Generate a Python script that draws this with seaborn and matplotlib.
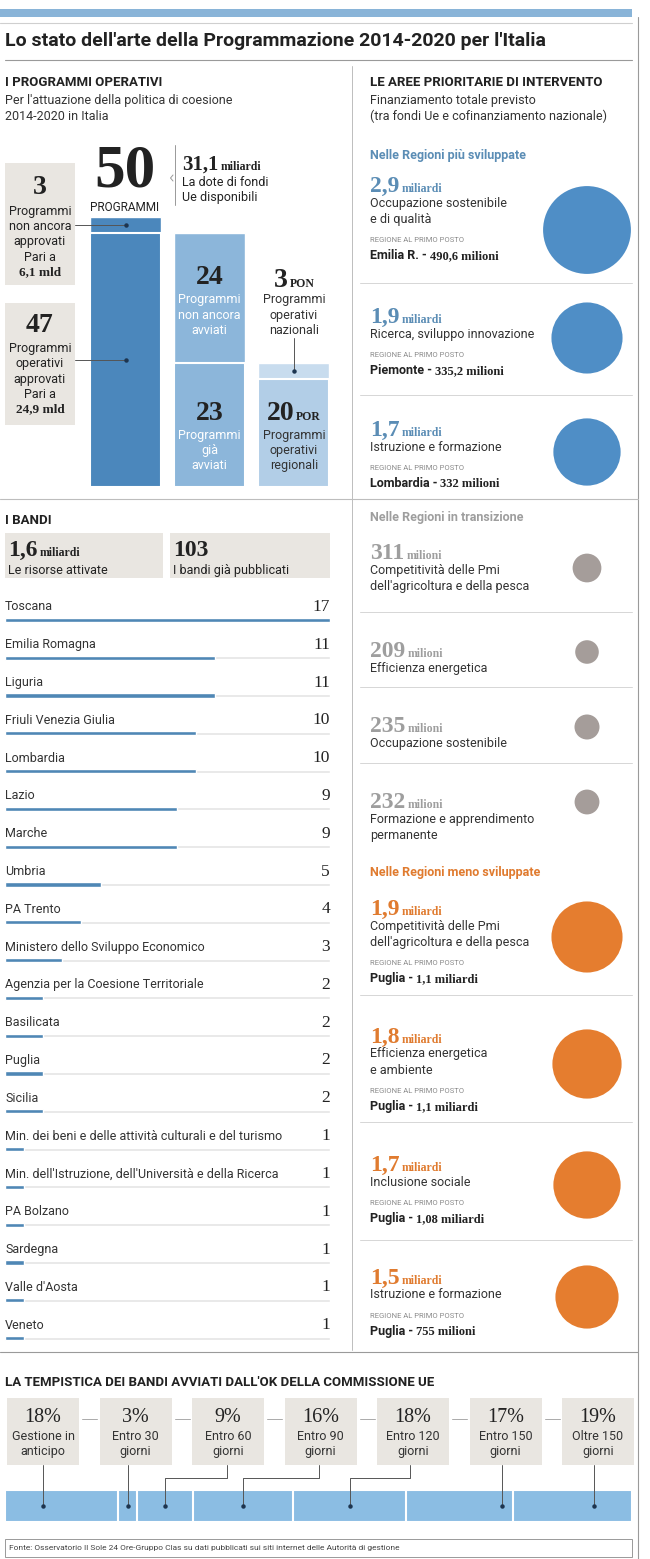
import numpy as np
import pandas as pd
import matplotlib.pyplot as plt
import seaborn as sns
from matplotlib.patches import Rectangle

# programmi operativi: colonne impilate (parte bassa + parte alta)
prog_columns = ['Totale', 'Approvati', 'Tipo']
prog_bottom = [47, 23, 20]
prog_top = [3, 24, 3]

# i bandi
bandi_names = ['Toscana', 'Emilia Romagna', 'Liguria', 'Friuli Venezia Giulia', 'Lombardia',
               'Lazio', 'Marche', 'Umbria', 'PA Trento', 'Ministero dello Sviluppo Economico',
               'Agenzia per la Coesione Territoriale', 'Basilicata', 'Puglia', 'Sicilia',
               'Min. dei beni e delle attività culturali e del turismo',
               "Min. dell'Istruzione, dell'Università e della Ricerca",
               'PA Bolzano', 'Sardegna', "Valle d'Aosta", 'Veneto']
bandi_values = [17, 11, 11, 10, 10, 9, 9, 5, 4, 3, 2, 2, 2, 2, 1, 1, 1, 1, 1, 1]

# aree prioritarie (valori in miliardi)
area_group = ['sviluppate'] * 3 + ['transizione'] * 4 + ['meno'] * 4
area_value = [2.9, 1.9, 1.7, 0.311, 0.209, 0.235, 0.232, 1.9, 1.8, 1.7, 1.5]
area_num = ['2,9', '1,9', '1,7', '311', '209', '235', '232', '1,9', '1,8', '1,7', '1,5']
area_unit = ['miliardi'] * 3 + ['milioni'] * 4 + ['miliardi'] * 4
area_title = ['Occupazione sostenibile\ne di qualità', 'Ricerca, sviluppo innovazione',
              'Istruzione e formazione',
              "Competitività delle Pmi\ndell'agricoltura e della pesca", 'Efficienza energetica',
              'Occupazione sostenibile', 'Formazione e apprendimento\npermanente',
              "Competitività delle Pmi\ndell'agricoltura e della pesca",
              'Efficienza energetica\ne ambiente', 'Inclusione sociale', 'Istruzione e formazione']
area_leader = ['Emilia R.', 'Piemonte', 'Lombardia', '', '', '', '',
               'Puglia', 'Puglia', 'Puglia', 'Puglia']
area_leader_amount = ['490,6 milioni', '335,2 milioni', '332 milioni', '', '', '', '',
                      '1,1 miliardi', '1,1 miliardi', '1,08 miliardi', '755 milioni']
group_headers = {'sviluppate': 'Nelle Regioni più sviluppate',
                 'transizione': 'Nelle Regioni in transizione',
                 'meno': 'Nelle Regioni meno sviluppate'}

# tempistica
tempi_pct = [18, 3, 9, 16, 18, 17, 19]
tempi_labels = ['Gestione in\nanticipo', 'Entro 30\ngiorni', 'Entro 60\ngiorni', 'Entro 90\ngiorni',
                'Entro 120\ngiorni', 'Entro 150\ngiorni', 'Oltre 150\ngiorni']

# layout (pixel)
W, H = 650, 1559
RX = 370
area_text_y = [184, 315, 428, 551, 649, 724, 800, 907, 1035, 1163, 1276]
area_circle_y = [230, 338, 452, 568, 652, 727, 802, 937, 1064, 1185, 1297]
header_y = {'sviluppate': 155, 'transizione': 518, 'meno': 872}
sep_y = [283, 395, 612, 687, 763, 995, 1122, 1240]
tempi_anchor = [43, 128, 227, 319, 410, 502, 594]

DARK = '#222222'
BOX = '#e9e6e1'
LINE = '#bdbdbd'
text_col = {'sviluppate': '#5b8db5', 'transizione': '#9e9e9e', 'meno': '#e07b2f'}
circle_col = {'sviluppate': '#4f8ec6', 'transizione': '#a59d9a', 'meno': '#e57d2f'}

sns.set_theme(style='white')
SANS = ['Liberation Sans Narrow', 'Roboto', 'DejaVu Sans']
SERIF = ['Liberation Serif', 'DejaVu Serif']
plt.rcParams['font.family'] = SANS

fig = plt.figure(figsize=(6.5, 15.59), dpi=100)
renderer = fig.canvas.get_renderer()

canvas = fig.add_axes([0, 0, 1, 1])
canvas.set_zorder(10)
canvas.set_xlim(0, W)
canvas.set_ylim(H, 0)
canvas.axis('off')


def px_axes(x0, y0, x1, y1):
    ax = fig.add_axes([x0 / W, 1 - y1 / H, (x1 - x0) / W, (y1 - y0) / H])
    return ax


def to_canvas(ax, x, y):
    dx, dy = ax.transData.transform((x, y))
    return dx, H - dy


def txt(x, y, s, size=9, color=DARK, ha='left', va='center', family=None, weight='normal', **kw):
    return canvas.text(x, y, s, fontsize=size, color=color, ha=ha, va=va,
                       family=family or SANS, fontweight=weight, **kw)


def pair(x, y, a, b, kw_a, kw_b, ha='left', gap=2):
    # two texts on the same baseline, second one after the first
    t1 = canvas.text(x, y, a, ha='left', va='baseline', **kw_a)
    t2 = canvas.text(x, y, b, ha='left', va='baseline', **kw_b)
    w1 = t1.get_window_extent(renderer).width
    w2 = t2.get_window_extent(renderer).width
    x0 = x if ha == 'left' else x - (w1 + gap + w2) / 2
    t1.set_x(x0)
    t2.set_x(x0 + w1 + gap)


def box(x0, y0, x1, y1, color=BOX):
    canvas.add_patch(Rectangle((x0, y0), x1 - x0, y1 - y0, facecolor=color, edgecolor='none'))


def hline(y, x0, x1, color=LINE, lw=0.7):
    canvas.plot([x0, x1], [y, y], color=color, lw=lw)


def num_kw(size, color=DARK, weight='bold'):
    return dict(fontsize=size, color=color, family=SERIF, fontweight=weight)


# ---------- testata ----------
box(0, 9, 632, 17, '#89b4d8')
hline(23, 0, 632, '#cfcfcf', 0.8)
txt(5, 41, "Lo stato dell'arte della Programmazione 2014-2020 per l'Italia", size=14, weight='bold')
hline(60, 5, 632, '#9a9a9a', 0.8)
canvas.plot([638, 638], [17, H], color='#9a9a9a', lw=0.8)
canvas.plot([352, 352], [66, 1350], color=LINE, lw=0.7)
hline(499, 0, 638, LINE, 0.8)
hline(1352, 0, 638, '#9a9a9a', 0.8)

# ---------- programmi operativi ----------
txt(5, 82, 'I PROGRAMMI OPERATIVI', size=9.5, weight='bold')
txt(5, 100, "Per l'attuazione della politica di coesione", size=9, color='#333333')
txt(5, 116, '2014-2020 in Italia', size=9, color='#333333')

ax_p = px_axes(83.5, 217, 336, 487)
prog_total = [b + t for b, t in zip(prog_bottom, prog_top)]
sns.barplot(x=prog_columns, y=prog_total, hue=prog_columns, palette=['#4b87bc', '#8cb6da', '#c8dcee'],
            width=0.845, saturation=1, legend=False, ax=ax_p)
sns.barplot(x=prog_columns, y=prog_bottom, hue=prog_columns, palette=['#4b87bc', '#8cb6da', '#b2cee7'],
            width=0.845, saturation=1, legend=False, edgecolor='white', linewidth=1.5, ax=ax_p)
ax_p.set_xlim(-0.5, 2.5)
ax_p.set_ylim(0, max(prog_total))
ax_p.axis('off')

txt(125, 186, str(prog_total[0]), size=44, weight='bold', family=SERIF, ha='center', va='baseline')
txt(125, 207, 'PROGRAMMI', size=8.5, ha='center')
canvas.plot([175, 175], [145, 205], color='#999999', lw=0.7)
canvas.plot([173, 170.5, 173], [175, 178, 181], color='#999999', lw=0.7)
pair(182, 170, '31,1', 'miliardi', num_kw(15), num_kw(8.5))
txt(182, 182, 'La dote di fondi', size=9)
txt(182, 197, 'Ue disponibili', size=9)

box(5, 163, 75, 285)
box(5, 303, 75, 425)
txt(40, 187, str(prog_top[0]), size=20, weight='bold', family=SERIF, ha='center')
for yy, s in zip([211, 226, 241, 257], ['Programmi', 'non ancora', 'approvati', 'Pari a']):
    txt(40, yy, s, size=9, ha='center')
txt(40, 272, '6,1 mld', size=9.5, weight='bold', family=SERIF, ha='center')
txt(40, 325, str(prog_bottom[0]), size=20, weight='bold', family=SERIF, ha='center')
for yy, s in zip([348, 363, 379, 394], ['Programmi', 'operativi', 'approvati', 'Pari a']):
    txt(40, yy, s, size=9, ha='center')
txt(40, 409, '24,9 mld', size=9.5, weight='bold', family=SERIF, ha='center')

# connettori verso le colonne
dx, dy = to_canvas(ax_p, 0, prog_bottom[0] + prog_top[0] / 2)
canvas.plot([75, dx], [dy, dy], color='#555555', lw=0.7)
canvas.plot(dx, dy, 'o', color='#1d3550', ms=2.2)
dx, dy = to_canvas(ax_p, 0, prog_bottom[0] / 2)
canvas.plot([75, dx], [dy, dy], color='#555555', lw=0.7)
canvas.plot(dx, dy, 'o', color='#1d3550', ms=2.2)
dx, dy = to_canvas(ax_p, 2, prog_bottom[2] + prog_top[2] / 2)
canvas.plot([dx, dx], [338, dy], color='#555555', lw=0.7)
canvas.plot(dx, dy, 'o', color='#1d3550', ms=2.2)

c2 = to_canvas(ax_p, 1, 0)[0]
c3 = to_canvas(ax_p, 2, 0)[0]
txt(c2, 277, str(prog_top[1]), size=20, weight='bold', family=SERIF, ha='center')
for yy, s in zip([299, 315, 330], ['Programmi', 'non ancora', 'avviati']):
    txt(c2, yy, s, size=9, ha='center', color='white')
txt(c2, 413, str(prog_bottom[1]), size=20, weight='bold', family=SERIF, ha='center')
for yy, s in zip([435, 450, 465], ['Programmi', 'già', 'avviati']):
    txt(c2, yy, s, size=9, ha='center', color='white')
pair(c3, 287, str(prog_top[2]), 'PON', num_kw(20), num_kw(8.5), ha='center')
for yy, s in zip([299, 315, 330], ['Programmi', 'operativi', 'nazionali']):
    txt(c3, yy, s, size=9, ha='center', color='#333333')
pair(c3, 420, str(prog_bottom[2]), 'POR', num_kw(20), num_kw(8.5), ha='center')
for yy, s in zip([435, 450, 465], ['Programmi', 'operativi', 'regionali']):
    txt(c3, yy, s, size=9, ha='center', color='#333333')

# ---------- i bandi ----------
txt(5, 521, 'I BANDI', size=9.5, weight='bold')
box(5, 533, 163, 578)
box(170, 533, 330, 578)
pair(8, 556, '1,6', 'miliardi', num_kw(17), num_kw(8.5))
txt(8, 570, 'Le risorse attivate', size=9)
pair(173, 556, str(sum(bandi_values)), '', num_kw(17), num_kw(8.5))
txt(173, 570, 'I bandi già pubblicati', size=9)

n = len(bandi_names)
ax_b = px_axes(5, 601, 330, 601 + 37.8 * n)
sns.barplot(x=[max(bandi_values)] * n, y=bandi_names, color='#e4e4e4', width=0.08,
            saturation=1, orient='h', ax=ax_b)
sns.barplot(x=bandi_values, y=bandi_names, color='#4f87b5', width=0.11,
            saturation=1, orient='h', ax=ax_b)
ax_b.set_xlim(0, max(bandi_values))
ax_b.set_ylim(n - 0.5, -0.5)
ax_b.axis('off')
for i, (name, v) in enumerate(zip(bandi_names, bandi_values)):
    x0, y0 = to_canvas(ax_b, 0, i)
    x1, _ = to_canvas(ax_b, max(bandi_values), i)
    txt(x0, y0 - 13, name, size=9, color='#333333')
    txt(x1, y0 - 13, str(v), size=12.5, family=SERIF, ha='right')

# ---------- aree prioritarie ----------
txt(RX, 82, 'LE AREE PRIORITARIE DI INTERVENTO', size=9.5, weight='bold')
txt(RX, 100, 'Finanziamento totale previsto', size=9, color='#333333')
txt(RX, 116, '(tra fondi Ue e cofinanziamento nazionale)', size=9, color='#333333')
for g, yy in header_y.items():
    txt(RX, yy, group_headers[g], size=9, weight='bold', color=text_col[g])
for yy in sep_y:
    hline(yy, RX - 10, 632, '#d6d6d6', 0.7)

df_area = pd.DataFrame({'value': area_value, 'group': area_group,
                        'cx': [587] * len(area_value), 'cy': area_circle_y})
sns.scatterplot(data=df_area, x='cx', y='cy', hue='group', palette=circle_col, size='value',
                sizes=(0, 4000), size_norm=(0, max(area_value)), linewidth=0, legend=False, ax=canvas)

for i in range(len(area_value)):
    g = area_group[i]
    y = area_text_y[i]
    pair(RX, y + 8, area_num[i], area_unit[i], num_kw(17, text_col[g]), num_kw(8.5, text_col[g]))
    ty = y + 19
    for line in area_title[i].split('\n'):
        txt(RX, ty, line, size=9, color='#333333')
        ty += 16
    if area_leader[i]:
        txt(RX, ty + 5, 'REGIONE AL PRIMO POSTO', size=5.5, color='#8a8a8a')
        pair(RX, ty + 24, area_leader[i] + ' -', area_leader_amount[i],
             dict(fontsize=9, color=DARK, family=SANS, fontweight='bold'), num_kw(9), gap=3)

# ---------- tempistica ----------
txt(5, 1383, "LA TEMPISTICA DEI BANDI AVVIATI DALL'OK DELLA COMMISSIONE UE", size=9.5, weight='bold')

ax_t = px_axes(5, 1490, 632, 1522)
cum = np.cumsum(tempi_pct)
for c in cum[::-1]:
    sns.barplot(x=[c], y=['tempi'], color='#8bbde3', width=1, saturation=1,
                edgecolor='white', linewidth=1.5, orient='h', ax=ax_t)
ax_t.set_xlim(0, cum[-1])
ax_t.set_ylim(0.5, -0.5)
ax_t.axis('off')

for i, (p, lab) in enumerate(zip(tempi_pct, tempi_labels)):
    bx0 = 7 + 92.5 * i
    box(bx0, 1398, bx0 + 72, 1465)
    cx = bx0 + 36
    txt(cx, 1418, f'{p}%', size=14.5, family=SERIF, ha='center')
    l1, l2 = lab.split('\n')
    txt(cx, 1437, l1, size=9, ha='center', color='#333333')
    txt(cx, 1452, l2, size=9, ha='center', color='#333333')
    if i < len(tempi_pct) - 1:
        hline(1419, bx0 + 75, bx0 + 90, '#aaaaaa', 0.7)
    # connettore verso il segmento della barra
    s0 = to_canvas(ax_t, cum[i] - p, 0)[0]
    s1, sy = to_canvas(ax_t, cum[i], 0)
    a = tempi_anchor[i]
    if s0 < a < s1:
        dot = a
        canvas.plot([a, a], [1465, sy], color='#555555', lw=0.7)
    else:
        dot = to_canvas(ax_t, cum[i] - p / 2, 0)[0]
        canvas.plot([a, a, dot, dot], [1465, 1478, 1478, sy], color='#555555', lw=0.7)
    canvas.plot(dot, sy, 'o', color='#1d3550', ms=2.2)

canvas.add_patch(Rectangle((5, 1539), 627, 18, facecolor='white', edgecolor='#999999', lw=0.7))
txt(9, 1548, 'Fonte: Osservatorio Il Sole 24 Ore-Gruppo Clas su dati pubblicati sui siti internet '
    'delle Autorità di gestione', size=6, color='#444444')

canvas.set_xlim(0, W)
canvas.set_ylim(H, 0)
canvas.axis('off')

fig.savefig('out.png', dpi=100, facecolor='white')
